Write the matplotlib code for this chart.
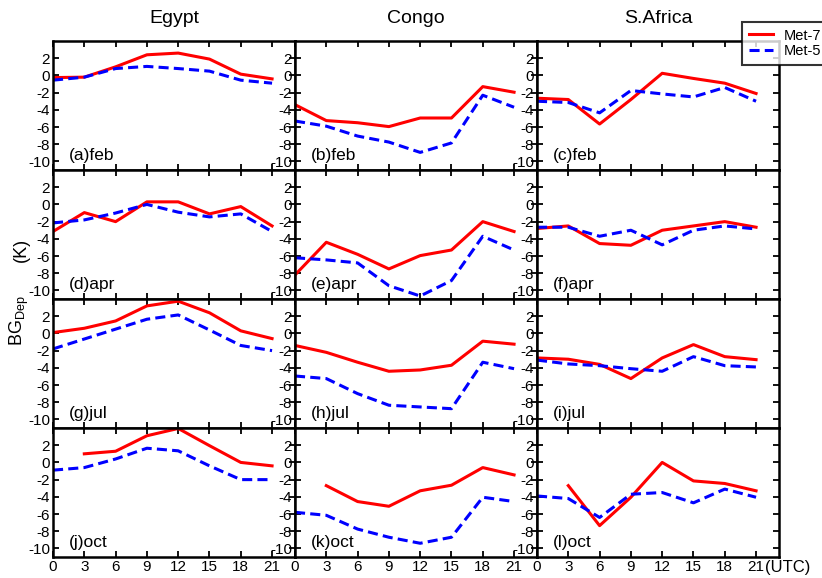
import numpy as np
import matplotlib
matplotlib.use("Agg")
import matplotlib.pyplot as plt

plt.rcParams['font.family'] = ['Liberation Sans', 'DejaVu Sans']
plt.rcParams['axes.unicode_minus'] = False

hours = [0, 3, 6, 9, 12, 15, 18, 21]
regions = ['Egypt', 'Congo', 'S.Africa']
months = ['feb', 'apr', 'jul', 'oct']
nan = np.nan

# background departure (K), Met-7
met7 = {
    ('Egypt', 'feb'): [-0.25, -0.2, 1.0, 2.4, 2.6, 1.9, 0.15, -0.4],
    ('Congo', 'feb'): [-3.4, -5.25, -5.5, -5.95, -4.95, -4.95, -1.3, -1.95],
    ('S.Africa', 'feb'): [-2.65, -2.8, -5.65, -2.8, 0.25, -0.35, -0.9, -2.1],
    ('Egypt', 'apr'): [-3.15, -0.95, -2.0, 0.3, 0.3, -1.1, -0.25, -2.5],
    ('Congo', 'apr'): [-8.2, -4.4, -5.8, -7.5, -5.95, -5.3, -2.0, -3.15],
    ('S.Africa', 'apr'): [-2.8, -2.5, -4.55, -4.75, -3.0, -2.5, -2.0, -2.65],
    ('Egypt', 'jul'): [0.1, 0.6, 1.45, 3.2, 3.75, 2.4, 0.3, -0.6],
    ('Congo', 'jul'): [-1.4, -2.2, -3.35, -4.4, -4.25, -3.7, -0.9, -1.25],
    ('S.Africa', 'jul'): [-2.85, -3.0, -3.6, -5.25, -2.85, -1.3, -2.7, -3.05],
    ('Egypt', 'oct'): [nan, 1.0, 1.3, 3.1, 3.95, 1.95, 0.0, -0.4],
    ('Congo', 'oct'): [nan, -2.7, -4.55, -5.1, -3.3, -2.65, -0.6, -1.45],
    ('S.Africa', 'oct'): [nan, -2.7, -7.35, -4.05, 0.0, -2.15, -2.45, -3.3],
}

# background departure (K), Met-5
met5 = {
    ('Egypt', 'feb'): [-0.55, -0.2, 0.8, 1.05, 0.8, 0.5, -0.55, -0.9],
    ('Congo', 'feb'): [-5.3, -5.9, -7.05, -7.75, -8.95, -7.85, -2.3, -3.7],
    ('S.Africa', 'feb'): [-3.0, -3.15, -4.35, -1.75, -2.15, -2.5, -1.4, -3.0],
    ('Egypt', 'apr'): [-2.15, -1.8, -1.0, 0.0, -0.9, -1.45, -1.1, -3.15],
    ('Congo', 'apr'): [-6.2, -6.45, -6.8, -9.45, -10.65, -8.85, -3.7, -5.3],
    ('S.Africa', 'apr'): [-2.65, -2.65, -3.7, -3.0, -4.7, -3.0, -2.5, -2.85],
    ('Egypt', 'jul'): [-1.8, -0.65, 0.5, 1.65, 2.15, 0.4, -1.4, -2.0],
    ('Congo', 'jul'): [-4.95, -5.25, -7.0, -8.35, -8.55, -8.75, -3.35, -4.1],
    ('S.Africa', 'jul'): [-3.1, -3.55, -3.75, -4.1, -4.4, -2.7, -3.75, -3.9],
    ('Egypt', 'oct'): [-0.9, -0.6, 0.4, 1.65, 1.35, -0.4, -2.0, -2.0],
    ('Congo', 'oct'): [-5.8, -6.15, -7.75, -8.7, -9.4, -8.7, -4.05, -4.55],
    ('S.Africa', 'oct'): [-3.9, -4.2, -6.4, -3.7, -3.5, -4.7, -3.1, -4.05],
}

yticks = [2, 0, -2, -4, -6, -8, -10]

fig, axes = plt.subplots(4, 3, figsize=(8.22, 5.78), dpi=100)
fig.subplots_adjust(left=0.0645, right=0.9477, top=0.929, bottom=0.0363,
                    wspace=0, hspace=0)

letters = 'abcdefghijkl'
k = 0
for i, m in enumerate(months):
    for j, r in enumerate(regions):
        ax = axes[i, j]
        l7, = ax.plot(hours, met7[(r, m)], color='red', lw=2.2, label='Met-7')
        l5, = ax.plot(hours, met5[(r, m)], color='blue', lw=2.2,
                      dashes=(3.3, 1.7), label='Met-5')
        ax.set_xlim(0, 23.2)
        ax.set_ylim(-11, 4)
        ax.set_xticks(hours)
        ax.set_yticks(yticks)
        ax.tick_params(direction='in', top=True, right=True, length=4,
                       width=1.3, labelsize=11, pad=2)
        if i < 3:
            ax.set_xticklabels([])
        for s in ax.spines.values():
            s.set_linewidth(1.8)
        ax.text(1.5, -9.3, '(%s)%s' % (letters[k], m), fontsize=12.5,
                va='center', ha='left')
        k += 1
        if i == 0:
            ax.set_title(r, fontsize=14, pad=13)

# y label: BG_Dep lower, (K) higher up the same column
fig.text(0.024, 1 - 321 / 578, 'BG$_{\\mathregular{Dep}}$', rotation=90,
         ha='center', va='center', fontsize=13)
fig.text(0.026, 1 - 250 / 578, '(K)', rotation=90,
         ha='center', va='center', fontsize=13)
fig.text(0.931, 0.019, '(UTC)', ha='left', va='center', fontsize=12)

leg = fig.legend(handles=[l7, l5], loc='upper left',
                 bbox_to_anchor=(742 / 822, 1 - 22 / 578), fontsize=10.5,
                 frameon=True, fancybox=False, edgecolor='black',
                 handlelength=1.7, borderpad=0.45, labelspacing=0.1,
                 handletextpad=0.7, borderaxespad=0)
leg.get_frame().set_linewidth(1.5)

fig.savefig('out.png', dpi=100)
